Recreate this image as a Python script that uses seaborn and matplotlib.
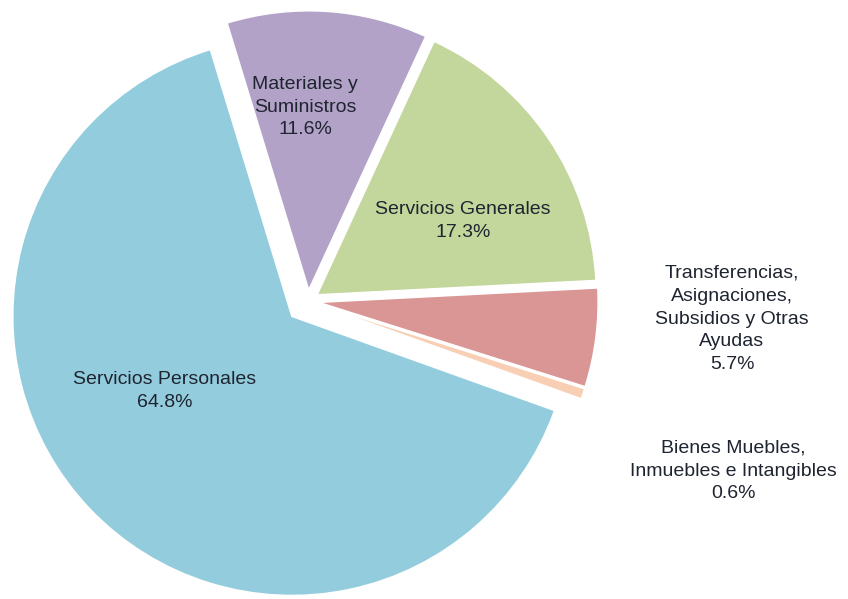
import matplotlib
matplotlib.use('Agg')
import matplotlib.pyplot as plt
import seaborn as sns

# Datos del gráfico (porcentaje del gasto por capítulo)
categories = ['Materiales y\nSuministros',
              'Servicios Generales',
              'Transferencias,\nAsignaciones,\nSubsidios y Otras\nAyudas',
              'Bienes Muebles,\nInmuebles e Intangibles',
              'Servicios Personales']
shares = [11.6, 17.3, 5.7, 0.6, 64.8]

colors = ['#B3A2C7', '#C3D69B', '#D99694', '#F8CFB4', '#93CDDD']
explode_frac = [0.04, 0.04, 0.04, 0.04, 0.08]
# posiciones de las etiquetas en pixeles de la imagen (x, y desde arriba)
label_xy = [(305, 107), (463, 221), (732, 319), (733, 471), (165, 391)]

W, H = 848, 599
radius = 279
center = (308, H - 301)

sns.set_theme(style='white')
plt.rcParams['font.family'] = ['Liberation Sans', 'DejaVu Sans']

fig = plt.figure(figsize=(W / 100, H / 100), dpi=100)
ax = fig.add_axes([0, 0, 1, 1])

ax.pie(shares, colors=colors, explode=[e * radius for e in explode_frac],
       startangle=107, counterclock=False, center=center, radius=radius,
       wedgeprops=dict(edgecolor='white', linewidth=1))

ax.set_xlim(0, W)
ax.set_ylim(0, H)
ax.set_aspect('equal')
ax.axis('off')

for name, val, (x, y) in zip(categories, shares, label_xy):
    ax.text(x, H - y, f'{name}\n{val:.1f}%', ha='center', va='center',
            fontsize=14, color='#1E2430', linespacing=1.45)

fig.savefig('out.png', dpi=100)
